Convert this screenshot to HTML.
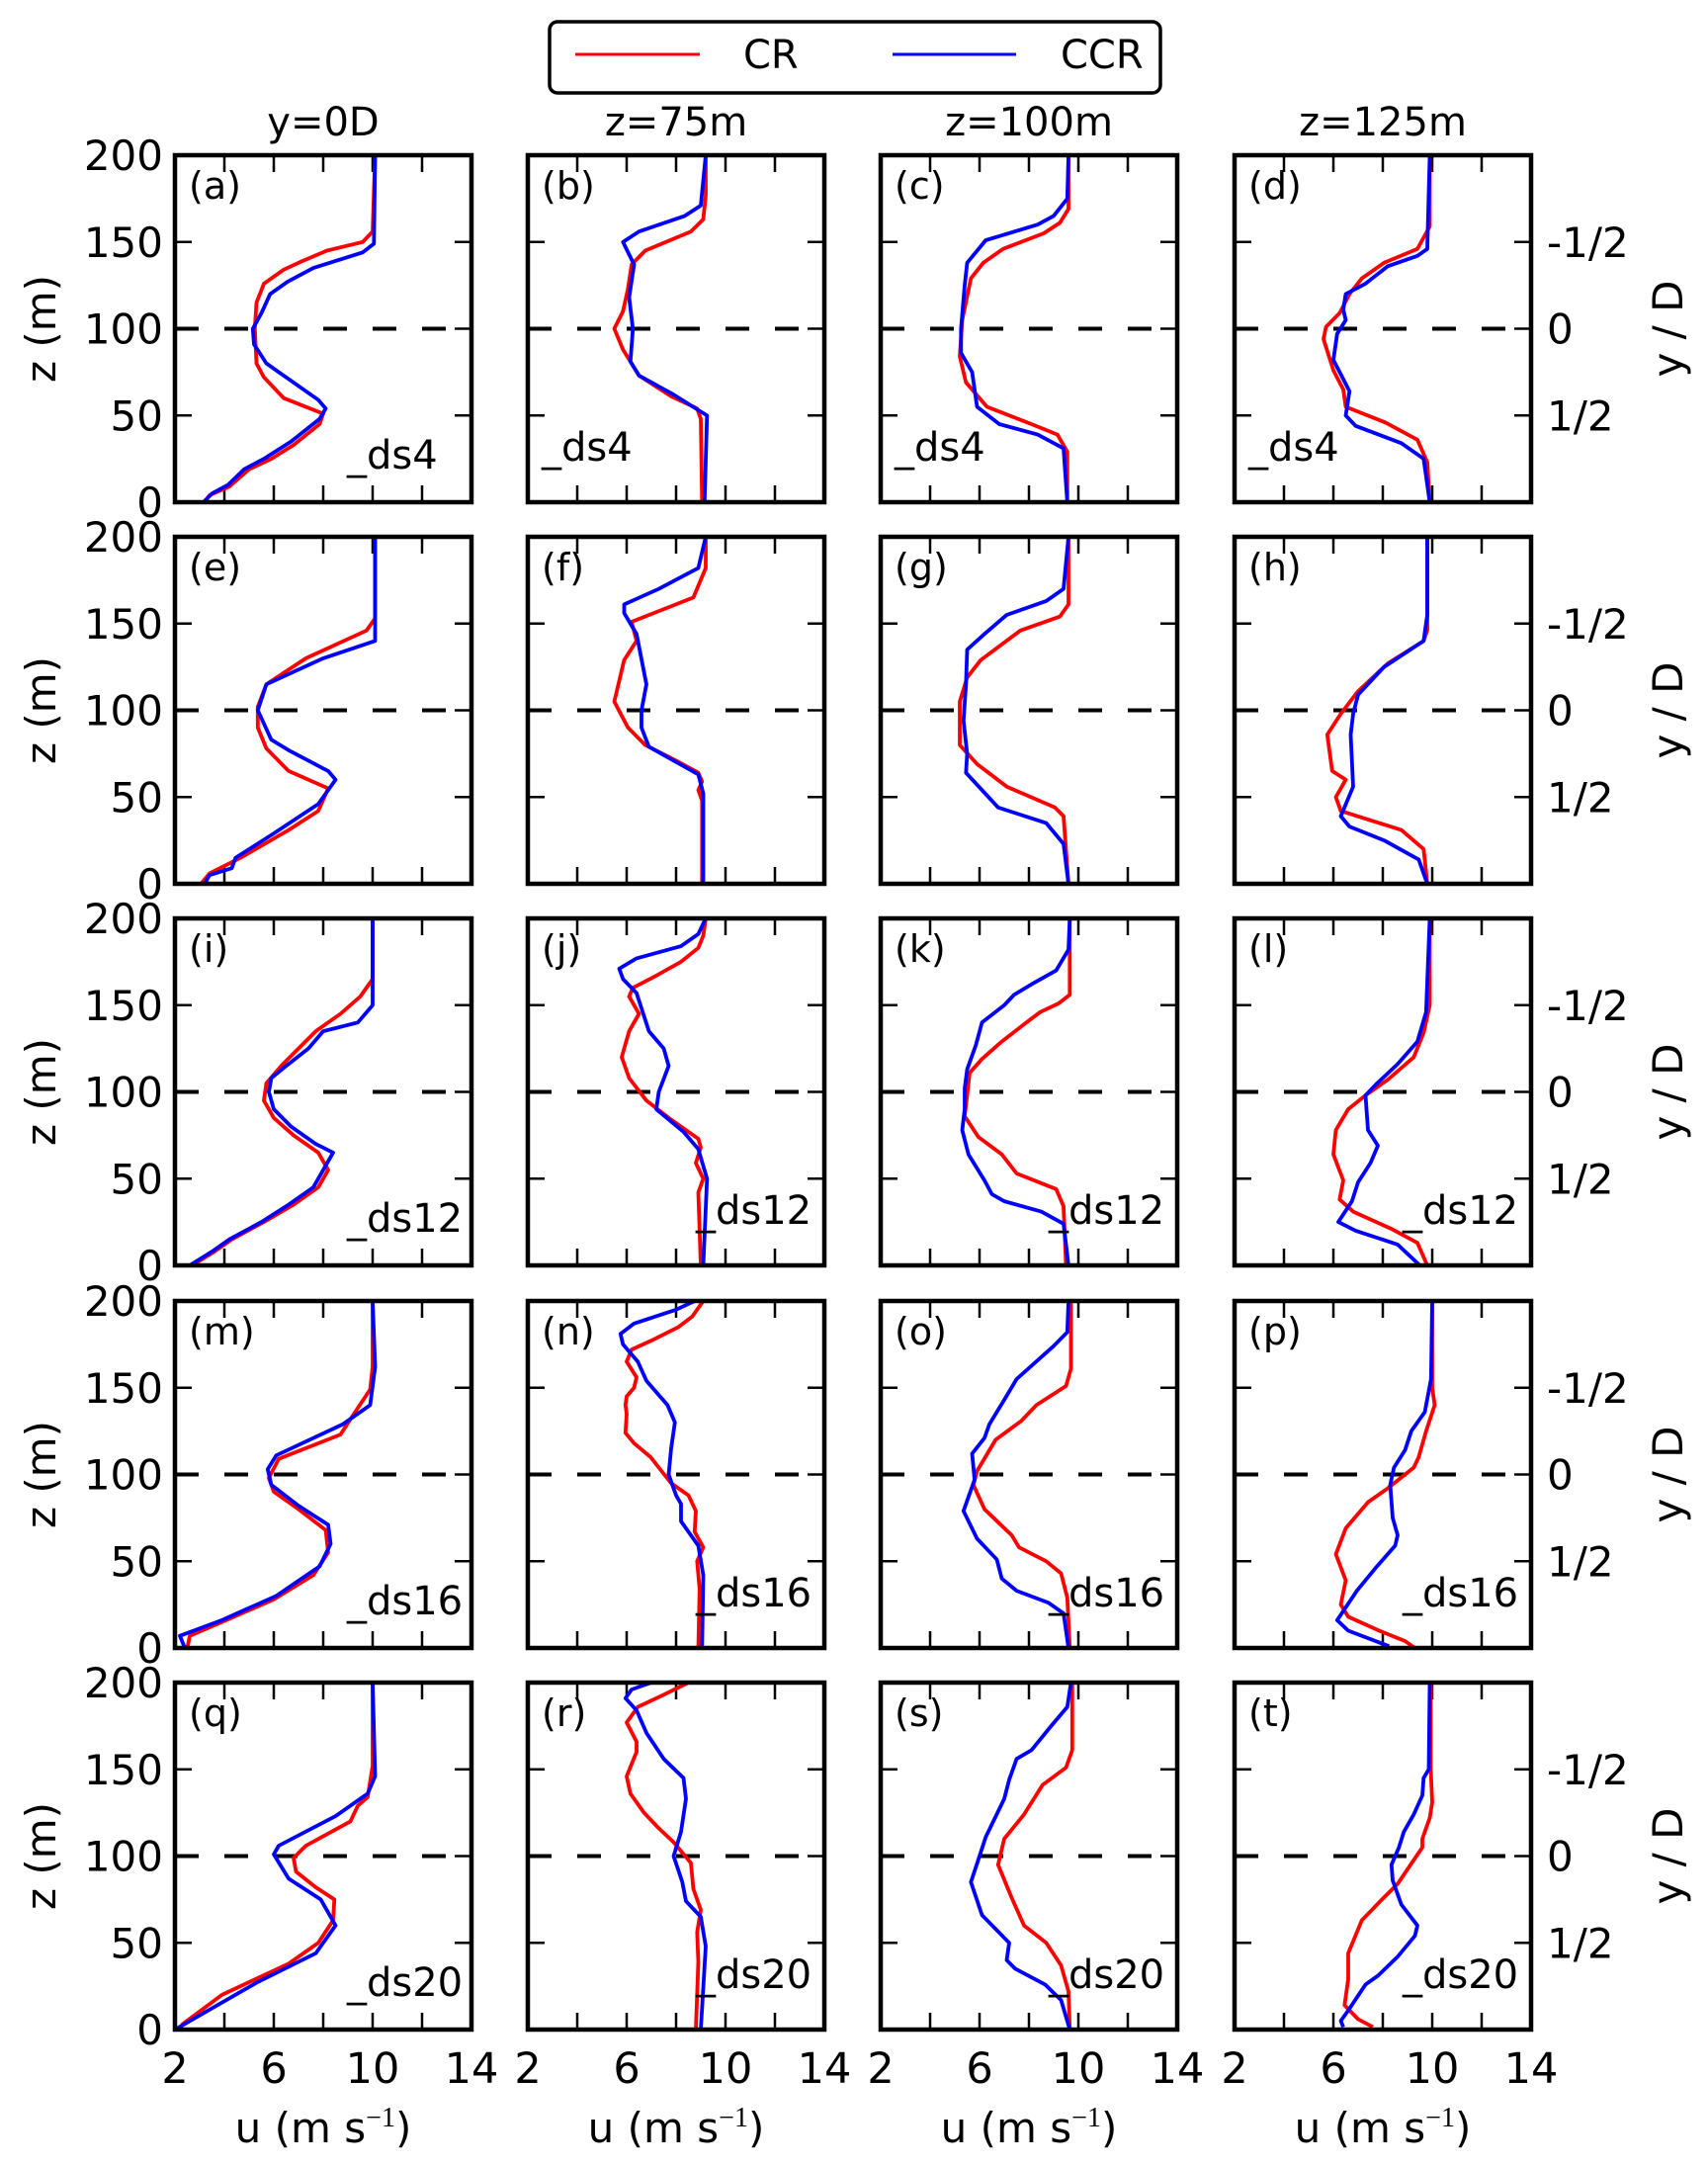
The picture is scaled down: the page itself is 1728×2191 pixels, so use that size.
<!DOCTYPE html>
<html><head><meta charset="utf-8"><style>
html,body{margin:0;padding:0;background:#fff;}
svg{display:block;font-family:"DejaVu Sans","Liberation Sans",sans-serif;}
</style></head><body>
<svg id="fig" width="1728" height="2191" viewBox="0 0 1728 2191" xmlns="http://www.w3.org/2000/svg">
<rect width="1728" height="2191" fill="#fff"/>
<g>
<rect x="556" y="22" width="618" height="72" rx="8" fill="#fff" stroke="#000" stroke-width="3.5"/>
<line x1="582" y1="55" x2="708" y2="55" stroke="#f00" stroke-width="3"/>
<text x="752" y="69" font-size="40">CR</text>
<line x1="903" y1="55" x2="1028" y2="55" stroke="#00f" stroke-width="3"/>
<text x="1073" y="69" font-size="40">CCR</text>
</g>
<g id="panels"></g>
</svg>
<script>
// ---- data: [z (m), u (m/s)] ----
const cr_a=[[200,10.1],[156,10.0],[150,9.6],[145,8.15],[139,7.15],[134,6.4],[126,5.6],[115,5.3],[100,5.23],[80,5.3],[72,5.6],[60,6.4],[51,8.0],[45,7.85],[33,6.8],[25,5.9],[19,5.0],[9,4.2],[4,3.4],[0,3.2]];
const ccr_a=[[200,10.1],[149,10.05],[144,9.6],[135,7.6],[127,6.55],[120,5.85],[109,5.5],[100,5.15],[91,5.2],[80,5.7],[75,6.2],[69,6.8],[59,7.8],[54,8.1],[48,7.85],[35,6.7],[25,5.6],[19,4.8],[10,4.15],[5,3.5],[0,3.15]];
const cr_b=[[200,9.2],[177,9.2],[163,9.1],[156,8.6],[145,6.75],[137,6.2],[123,6.05],[110,5.85],[100,5.5],[88,5.85],[73,6.5],[61,7.8],[54,8.85],[48,9.0],[0,9.05]];
const ccr_b=[[200,9.2],[171,9.0],[165,8.35],[156,6.5],[150,5.85],[137,6.3],[118,6.1],[100,6.25],[81,6.15],[73,6.5],[62,7.9],[50,9.25],[0,9.15]];
const cr_c=[[200,9.6],[169,9.6],[161,9.25],[155,8.6],[146,6.95],[138,6.15],[129,5.65],[105,5.3],[84,5.2],[69,5.45],[55,6.3],[45,8.1],[39,9.15],[29,9.55],[0,9.55]];
const ccr_c=[[200,9.6],[175,9.55],[165,9.0],[160,8.35],[151,6.25],[138,5.5],[125,5.4],[100,5.25],[86,5.25],[75,5.7],[55,5.9],[45,6.8],[39,8.35],[31,9.4],[0,9.55]];
const cr_d=[[200,9.9],[159,9.9],[146,9.4],[138,8.05],[129,7.15],[120,6.65],[109,6.25],[101,5.7],[94,5.6],[76,6.0],[65,6.4],[55,6.5],[46,8.1],[36,9.4],[23,9.8],[0,9.9]];
const ccr_d=[[200,9.9],[146,9.8],[142,9.4],[136,8.2],[126,7.3],[120,6.5],[111,6.4],[105,6.5],[97,6.15],[82,6.0],[64,6.65],[50,6.5],[44,6.9],[34,8.75],[25,9.65],[0,9.9]];
const cr_e=[[200,10.1],[153,10.1],[146,9.75],[130,7.3],[115,5.7],[102,5.35],[90,5.35],[78,5.7],[65,6.6],[55,8.2],[42,7.8],[31,6.6],[15,4.65],[6,3.4],[0,3.05]];
const ccr_e=[[200,10.1],[140,10.1],[130,8.0],[115,5.7],[100,5.35],[83,5.9],[77,6.6],[65,8.2],[60,8.5],[46,7.8],[29,6.0],[15,4.45],[9,4.3],[5,3.4],[0,3.2]];
const cr_f=[[200,9.2],[182,9.2],[165,8.7],[151,6.2],[140,6.4],[129,5.9],[105,5.5],[90,6.05],[80,6.75],[71,8.0],[64,8.9],[59,9.05],[54,8.9],[48,9.05],[0,9.05]];
const ccr_f=[[200,9.2],[182,8.9],[170,7.3],[161,5.9],[156,5.9],[144,6.4],[115,6.8],[100,6.6],[90,6.6],[79,6.9],[63,8.9],[52,9.1],[0,9.1]];
const cr_g=[[200,9.6],[161,9.6],[154,9.25],[146,7.65],[129,6.05],[119,5.5],[105,5.2],[80,5.2],[69,5.9],[56,7.1],[44,9.05],[39,9.4],[0,9.6]];
const ccr_g=[[200,9.6],[170,9.4],[163,8.7],[155,7.1],[144,6.2],[135,5.5],[115,5.45],[94,5.35],[75,5.5],[64,5.45],[44,6.75],[35,8.7],[23,9.4],[0,9.6]];
const cr_h=[[200,9.8],[146,9.8],[140,9.65],[127,8.2],[111,7.0],[98,6.3],[86,5.75],[65,5.95],[60,6.5],[50,6.1],[42,6.3],[31,8.75],[20,9.65],[0,9.8]];
const ccr_h=[[200,9.8],[155,9.8],[140,9.65],[125,8.05],[109,7.0],[98,6.8],[86,6.7],[56,6.8],[39,6.3],[33,6.65],[25,8.05],[14,9.45],[0,9.8]];
const cr_i=[[200,10.0],[165,10.0],[155,9.5],[145,8.7],[135,7.7],[125,7.0],[115,6.3],[105,5.7],[95,5.6],[85,6.0],[75,6.8],[65,7.8],[55,8.2],[45,7.8],[35,6.8],[25,5.6],[15,4.3],[8,3.6],[0,2.7]];
const ccr_i=[[200,10.0],[150,10.0],[140,9.4],[135,8.0],[125,7.4],[115,6.5],[108,5.9],[100,5.8],[90,6.0],[80,6.7],[70,7.7],[65,8.4],[55,8.0],[45,7.6],[35,6.6],[25,5.5],[15,4.2],[8,3.5],[0,2.6]];
const cr_j=[[200,9.2],[190,9.1],[183,8.9],[175,8.2],[167,7.2],[160,6.25],[155,6.1],[145,6.5],[135,6.1],[120,5.8],[108,6.1],[95,6.8],[84,7.8],[73,8.9],[68,9.0],[59,8.8],[50,9.1],[42,8.9],[0,9.0]];
const ccr_j=[[200,9.2],[191,8.9],[184,8.2],[177,6.4],[171,5.7],[165,5.85],[157,6.4],[135,6.9],[125,7.5],[115,7.7],[100,7.3],[90,7.2],[77,8.3],[67,8.9],[50,9.25],[0,9.1]];
const cr_k=[[200,9.65],[156,9.65],[151,9.2],[146,8.45],[139,7.8],[129,6.9],[119,6.1],[111,5.6],[86,5.4],[74,5.95],[64,6.9],[53,7.5],[44,9.1],[34,9.4],[0,9.5]];
const ccr_k=[[200,9.65],[182,9.6],[170,9.1],[162,8.1],[156,7.4],[150,7.0],[140,6.1],[127,5.85],[113,5.5],[102,5.4],[90,5.4],[78,5.3],[64,5.55],[49,6.2],[41,6.5],[37,7.0],[31,8.5],[24,9.4],[0,9.6]];
const cr_l=[[200,9.9],[150,9.9],[134,9.65],[120,9.25],[107,8.2],[98,7.3],[90,6.6],[78,6.1],[64,6.0],[49,6.4],[38,6.25],[31,6.8],[21,8.35],[13,9.4],[0,9.8]];
const ccr_l=[[200,9.9],[146,9.75],[129,9.4],[116,8.6],[104,7.7],[98,7.3],[78,7.4],[69,7.8],[59,7.5],[48,7.0],[37,6.75],[25,6.2],[20,6.9],[12,8.6],[0,9.5]];
const cr_m=[[200,10.0],[162,10.0],[149,9.9],[134,9.2],[123,8.7],[109,6.2],[98,5.8],[90,6.0],[80,7.0],[68,8.1],[55,8.2],[42,7.6],[28,6.0],[15,3.9],[7,2.6],[0,2.5]];
const ccr_m=[[200,10.0],[162,10.1],[140,9.9],[129,8.8],[111,6.1],[103,5.75],[94,5.9],[82,7.0],[71,8.2],[60,8.3],[47,7.85],[30,6.1],[16,3.9],[7,2.2],[0,2.4]];
const cr_n=[[200,9.1],[196,8.9],[191,8.65],[185,8.1],[177,6.97],[172,6.2],[165,6.0],[156,6.4],[150,6.3],[145,6.0],[140,5.95],[135,6.0],[124,5.95],[118,6.3],[110,6.97],[104,7.3],[95,7.8],[88,8.5],[79,8.8],[67,8.75],[58,9.1],[50,8.85],[34,8.95],[0,8.9]];
const ccr_n=[[200,8.75],[195,8.0],[187,6.3],[181,5.75],[175,5.85],[165,6.45],[154,6.8],[140,7.65],[130,7.95],[115,7.8],[100,7.7],[88,8.0],[83,8.2],[73,8.2],[59,8.9],[42,9.1],[0,9.05]];
const cr_o=[[200,9.7],[161,9.7],[151,9.5],[140,8.3],[131,7.7],[120,6.65],[102,5.9],[94,5.75],[80,6.2],[65,7.3],[58,7.6],[50,8.7],[43,9.3],[29,9.55],[0,9.65]];
const ccr_o=[[200,9.6],[182,9.55],[174,9.0],[155,7.5],[143,7.0],[129,6.4],[121,6.2],[112,5.7],[97,5.8],[79,5.35],[63,5.9],[51,6.7],[40,6.9],[33,7.5],[26,8.8],[20,9.4],[0,9.6]];
const cr_p=[[200,10.0],[150,10.0],[140,10.1],[125,9.75],[110,9.45],[104,9.25],[92,8.2],[84,7.4],[69,6.5],[54,6.1],[39,6.5],[25,6.3],[18,6.6],[10,7.85],[4,8.9],[0,9.3]];
const ccr_p=[[200,10.0],[155,9.95],[136,9.7],[125,9.15],[114,8.9],[104,8.45],[94,8.3],[75,8.4],[65,8.6],[59,8.5],[46,7.7],[33,6.95],[16,6.15],[10,6.6],[1,8.25]];
const cr_q=[[200,10.0],[152,10.0],[134,9.8],[129,9.4],[120,9.1],[106,7.3],[99,6.8],[91,6.9],[82,7.7],[75,8.45],[63,8.4],[50,7.8],[38,6.6],[20,3.9],[3,2.3],[0,2.2]];
const ccr_q=[[200,10.0],[146,10.1],[136,9.8],[130,9.2],[123,8.5],[106,6.2],[101,6.0],[87,6.6],[75,7.9],[60,8.5],[44,7.7],[27,5.3],[0,2.0]];
const cr_r=[[200,8.5],[193,7.5],[186,6.45],[177,6.0],[166,6.4],[160,6.4],[146,6.0],[136,6.15],[125,6.7],[116,7.3],[108,7.9],[96,8.6],[81,8.7],[69,9.0],[56,8.85],[39,8.9],[0,8.8]];
const ccr_r=[[200,7.0],[196,6.2],[191,5.95],[184,6.4],[171,6.8],[156,7.5],[145,8.3],[133,8.4],[114,8.2],[100,7.9],[85,8.25],[74,8.4],[65,9.0],[48,9.2],[0,9.0]];
const cr_s=[[200,9.75],[161,9.75],[151,9.5],[141,8.55],[124,7.8],[110,7.0],[95,6.75],[76,7.3],[60,7.8],[50,8.7],[37,9.3],[22,9.6],[0,9.65]];
const ccr_s=[[200,9.7],[186,9.55],[175,8.9],[161,8.1],[156,7.5],[144,7.2],[133,7.0],[111,6.25],[100,6.0],[85,5.65],[66,6.1],[50,7.2],[40,7.1],[35,7.45],[26,8.65],[17,9.3],[0,9.65]];
const cr_t=[[200,9.94],[150,9.94],[131,10.0],[122,9.9],[110,9.6],[105,9.6],[84,8.6],[74,7.9],[63,7.15],[44,6.6],[29,6.6],[14,6.45],[6,7.0],[1.5,7.6]];
const ccr_t=[[200,9.9],[150,9.86],[145,9.65],[135,9.6],[124,9.25],[114,8.85],[105,8.65],[95,8.35],[86,8.4],[72,8.75],[60,9.4],[54,9.3],[42,8.6],[31,7.8],[26,7.3],[11,6.6],[5,6.3],[1.5,6.4]];

const panelLetters=['a','b','c','d','e','f','g','h','i','j','k','l','m','n','o','p','q','r','s','t'];
const crSeries=[cr_a,cr_b,cr_c,cr_d,cr_e,cr_f,cr_g,cr_h,cr_i,cr_j,cr_k,cr_l,cr_m,cr_n,cr_o,cr_p,cr_q,cr_r,cr_s,cr_t];
const ccrSeries=[ccr_a,ccr_b,ccr_c,ccr_d,ccr_e,ccr_f,ccr_g,ccr_h,ccr_i,ccr_j,ccr_k,ccr_l,ccr_m,ccr_n,ccr_o,ccr_p,ccr_q,ccr_r,ccr_s,ccr_t];
const colTitles=['y=0D','z=75m','z=100m','z=125m'];
const rowTags=['_ds4','','_ds12','_ds16','_ds20'];
const xTickLabels=['2','6','10','14'];
const xTickVals=[2,6,10,14];
const xMinorTicks=[4,6,8,10,12];
const zTickLabels=['0','50','100','150','200'];
const zTickVals=[0,50,100,150,200];
const yDLabels=['-1/2','0','1/2'];
const yDVals=[150,100,50];

const NS='http://www.w3.org/2000/svg';
const colL=[177,534,891,1249], rowT=[157,543,929,1316,1702], PW=300, PH=351;
const root=document.getElementById('panels');
function mk(tag,attrs,parent){const e=document.createElementNS(NS,tag);for(const k in attrs)e.setAttribute(k,attrs[k]);parent.appendChild(e);return e;}
function txt(s,attrs,parent){const e=mk('text',attrs,parent);e.textContent=s;return e;}

for(let r=0;r<5;r++){for(let c=0;c<4;c++){
  const idx=r*4+c, L=colL[c], T=rowT[r];
  const xs=u=>L+(u-2)/12*PW, ys=z=>T+PH-(z/200)*PH;
  const g=mk('g',{},root);
  
  
  const d=mk('line',{x1:L,x2:L+PW,y1:ys(100),y2:ys(100),stroke:'#000','stroke-width':4,'stroke-dasharray':'24 26'},g);
  
  
  xMinorTicks.forEach(v=>{
    mk('line',{x1:xs(v),x2:xs(v),y1:T,y2:T+17,stroke:'#000','stroke-width':2.5},g);
    mk('line',{x1:xs(v),x2:xs(v),y1:T+PH,y2:T+PH-17,stroke:'#000','stroke-width':2.5},g);
  });
  [50,100,150].forEach(v=>{
    mk('line',{x1:L,x2:L+17,y1:ys(v),y2:ys(v),stroke:'#000','stroke-width':2.5},g);
    mk('line',{x1:L+PW,x2:L+PW-17,y1:ys(v),y2:ys(v),stroke:'#000','stroke-width':2.5},g);
  });
  const mkPath=(data,color,name)=>{
    const p=mk('path',{d:data.map((pt,i)=>(i?'L':'M')+xs(pt[1]).toFixed(1)+','+ys(pt[0]).toFixed(1)).join(''),fill:'none',stroke:color,'stroke-width':3.8,'stroke-linejoin':'round'},g);
    
    
  };
  mkPath(crSeries[idx],'#f00','cr-profile-'+panelLetters[idx]);
  mkPath(ccrSeries[idx],'#00f','ccr-profile-'+panelLetters[idx]);
  const f=mk('rect',{x:L,y:T,width:PW,height:PH,fill:'none',stroke:'#000','stroke-width':4.5},g);
  
  
  const lt=txt('('+panelLetters[idx]+')',{x:L+14,y:T+44,'font-size':38},g);
  
  
  if(rowTags[r]){
    let tx,ty;
    if(c===0){tx=L+174;ty=T+PH-34;}
    else if(r===0){tx=L+14;ty=T+PH-42;}
    else{tx=L+170;ty=T+PH-42;}
    const t=txt(rowTags[r],{x:tx,y:ty,'font-size':40},g);
    
    
  }
  if(c===0){
    zTickLabels.forEach((s,i)=>{
      const t=txt(s,{x:L-12,y:ys(zTickVals[i])+15,'font-size':42,'text-anchor':'end'},g);
      
      
    });
    const yl=txt('z (m)',{x:0,y:0,'font-size':42,'text-anchor':'middle',transform:'translate(56,'+(T+PH/2)+') rotate(-90)'},g);
    
    
  }
  if(c===3){
    yDLabels.forEach((s,i)=>{
      const t=txt(s,{x:L+PW+16,y:ys(yDVals[i])+15,'font-size':42},g);
      
      
    });
    const yl=txt('y / D',{x:0,y:0,'font-size':42,'text-anchor':'middle',transform:'translate(1702,'+(T+PH/2)+') rotate(-90)'},g);
    
    
  }
  if(r===0){
    const t=txt(colTitles[c],{x:L+PW/2,y:T-20,'font-size':40,'text-anchor':'middle'},g);
    
    
  }
  if(r===4){
    xTickLabels.forEach((s,i)=>{
      const t=txt(s,{x:xs(xTickVals[i]),y:T+PH+54,'font-size':43,'text-anchor':'middle'},g);
      
      
    });
    const xl=txt('',{x:L+PW/2,y:2167,'font-size':42,'text-anchor':'middle'},g);
    
    
    xl.appendChild(document.createTextNode('u (m s'));
    const sup=mk('tspan',{dy:-16,'font-size':28,'font-family':'Liberation Serif, serif'},xl);
    sup.textContent='\u22121';
    const cl=mk('tspan',{dy:16},xl);
    cl.textContent=')';
  }
}}
</script>
</body></html>
